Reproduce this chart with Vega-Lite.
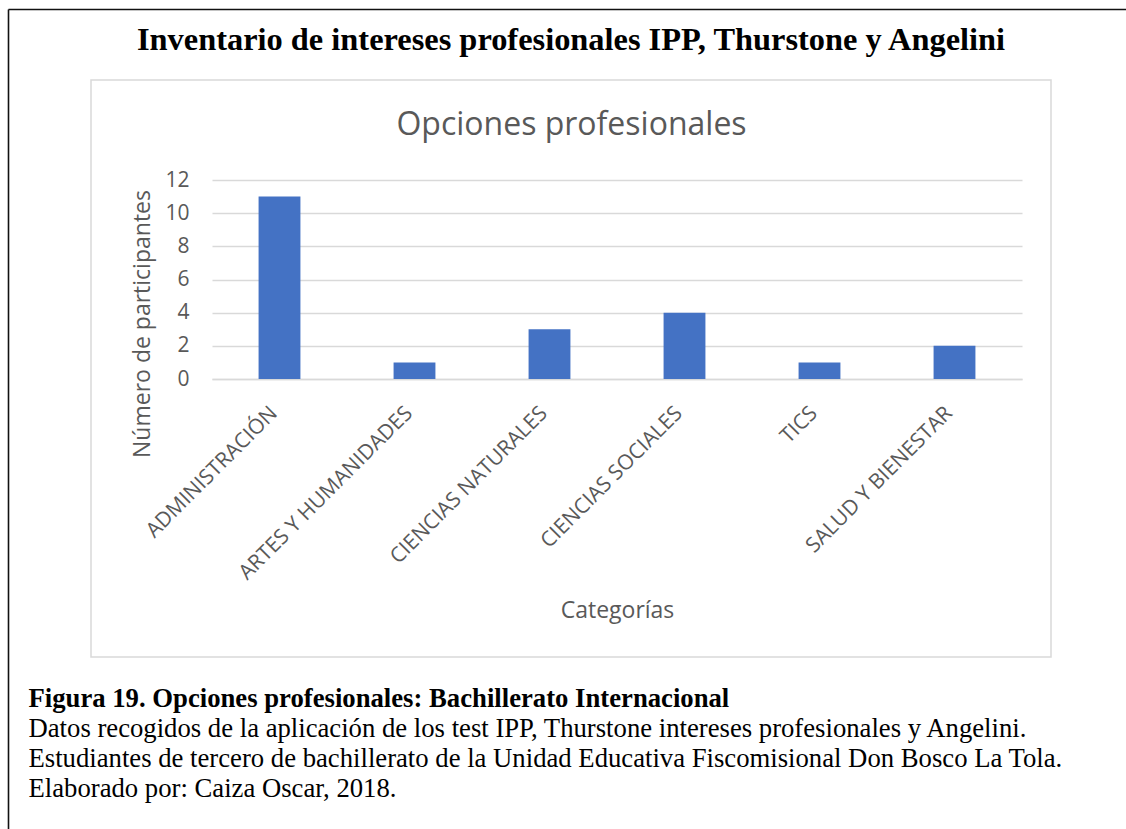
{
  "$schema": "https://vega.github.io/schema/vega-lite/v6.json",
  "width": 960,
  "height": 577,
  "autosize": {"type": "none"},
  "padding": {"left": 91, "top": 80, "right": 75, "bottom": 172},
  "background": "white",
  "view": {"stroke": "#d9d9d9", "strokeWidth": 1.5},
  "config": {"font": "Open Sans"},
  "resolve": {
    "scale": {"x": "independent", "y": "independent"},
    "axis": {"x": "independent", "y": "independent"}
  },
  "layer": [
    {
      "data": {
        "values": [
          {"categoria": "ADMINISTRACIÓN", "participantes": 11},
          {"categoria": "ARTES Y HUMANIDADES", "participantes": 1},
          {"categoria": "CIENCIAS NATURALES", "participantes": 3},
          {"categoria": "CIENCIAS SOCIALES", "participantes": 4},
          {"categoria": "TICS", "participantes": 1},
          {"categoria": "SALUD Y BIENESTAR", "participantes": 2}
        ]
      },
      "mark": {"type": "bar", "color": "#4472C4"},
      "encoding": {
        "x": {
          "field": "categoria",
          "type": "nominal",
          "sort": null,
          "scale": {"range": [121, 931], "paddingInner": 0.69, "paddingOuter": 0.345},
          "axis": {
            "orient": "bottom",
            "offset": -278,
            "title": "Categorías",
            "titleFont": "Open Sans",
            "titleFontSize": 23,
            "titleFontWeight": "normal",
            "titleColor": "#595959",
            "titleY": 238,
            "titleBaseline": "alphabetic",
            "domain": true,
            "domainColor": "#d9d9d9",
            "domainWidth": 1.3,
            "ticks": false,
            "tickSize": 0,
            "labelAngle": -45,
            "labelPadding": 23,
            "labelOffset": -13,
            "labelFont": "Open Sans",
            "labelFontSize": 21,
            "labelColor": "#595959",
            "labelLimit": 400
          }
        },
        "y": {
          "field": "participantes",
          "type": "quantitative",
          "scale": {"domain": [0, 12], "range": [299, 100], "nice": false},
          "axis": {
            "orient": "left",
            "offset": -121,
            "values": [0, 2, 4, 6, 8, 10, 12],
            "title": "Número de participantes",
            "titleFont": "Open Sans",
            "titleFontSize": 23,
            "titleFontWeight": "normal",
            "titleColor": "#595959",
            "titleAngle": -90,
            "titleX": -63,
            "titleY": 243.5,
            "titleAlign": "center",
            "titleBaseline": "alphabetic",
            "domain": false,
            "ticks": false,
            "tickSize": 0,
            "grid": true,
            "gridColor": "#d9d9d9",
            "gridWidth": 1.3,
            "labelPadding": 23,
            "labelFont": "Open Sans",
            "labelFontSize": 21,
            "labelColor": "#595959"
          }
        }
      }
    },
    {
      "data": {"values": []},
      "mark": {"type": "point", "opacity": 0},
      "encoding": {
        "x": {
          "field": "a",
          "type": "quantitative",
          "scale": {"domain": [0, 1], "range": [-83, 1200], "nice": false, "zero": false},
          "axis": {
            "orient": "top",
            "offset": 71,
            "labels": false,
            "ticks": false,
            "grid": false,
            "domain": true,
            "domainColor": "#111111",
            "domainWidth": 1.6,
            "title": "Inventario de intereses profesionales IPP, Thurstone y Angelini",
            "titleFont": "Liberation Serif",
            "titleFontSize": 32.4,
            "titleFontWeight": "bold",
            "titleColor": "#000000",
            "titleX": 479.5,
            "titleY": 40.5,
            "titleAlign": "center",
            "titleAngle": 0,
            "titleBaseline": "alphabetic"
          }
        },
        "y": {
          "field": "b",
          "type": "quantitative",
          "scale": {"domain": [0, 1], "range": [-71, 800], "nice": false, "zero": false},
          "axis": {
            "orient": "left",
            "offset": 83,
            "labels": false,
            "ticks": false,
            "grid": false,
            "domain": true,
            "domainColor": "#111111",
            "domainWidth": 1.6,
            "title": "Figura 19. Opciones profesionales: Bachillerato Internacional",
            "titleFont": "Liberation Serif",
            "titleFontSize": 26.7,
            "titleFontWeight": "bold",
            "titleColor": "#000000",
            "titleAngle": 0,
            "titleX": 20,
            "titleY": 626,
            "titleAlign": "left",
            "titleBaseline": "alphabetic",
            "titleLimit": 1100
          }
        }
      }
    },
    {
      "data": {"values": []},
      "mark": {"type": "point", "opacity": 0},
      "encoding": {
        "x": {
          "field": "c",
          "type": "quantitative",
          "scale": {"domain": [0, 1], "range": [0, 960], "nice": false, "zero": false},
          "axis": {
            "orient": "top",
            "offset": 0,
            "labels": false,
            "ticks": false,
            "grid": false,
            "domain": false,
            "title": "Opciones profesionales",
            "titleFont": "Open Sans",
            "titleFontSize": 32,
            "titleFontWeight": "normal",
            "titleColor": "#595959",
            "titleX": 480,
            "titleY": 54.5,
            "titleAlign": "center",
            "titleAngle": 0,
            "titleBaseline": "alphabetic"
          }
        },
        "y": {
          "field": "d",
          "type": "quantitative",
          "scale": {"domain": [0, 1], "range": [0, 577], "nice": false, "zero": false},
          "axis": {
            "orient": "left",
            "offset": 83,
            "labels": false,
            "ticks": false,
            "grid": false,
            "domain": false,
            "title": [
              "Datos recogidos de la aplicación de los test IPP, Thurstone intereses profesionales y Angelini.",
              "Estudiantes de tercero de bachillerato de la Unidad Educativa Fiscomisional Don Bosco La Tola.",
              "Elaborado por: Caiza Oscar, 2018."
            ],
            "titleFont": "Liberation Serif",
            "titleFontSize": 26.7,
            "titleFontWeight": "normal",
            "titleColor": "#000000",
            "titleAngle": 0,
            "titleX": 20,
            "titleY": 656,
            "titleAlign": "left",
            "titleBaseline": "alphabetic",
            "titleLineHeight": 30.3,
            "titleLimit": 1100
          }
        }
      }
    }
  ]
}
